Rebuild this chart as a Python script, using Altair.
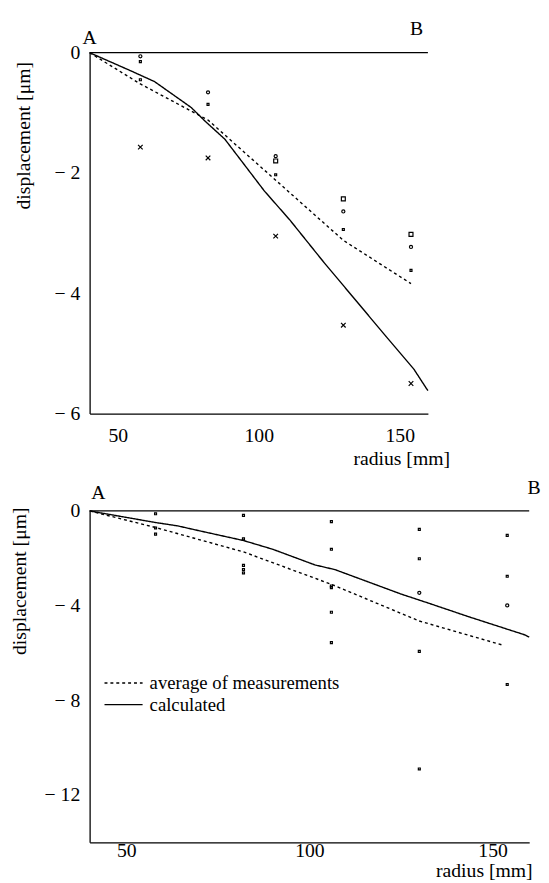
import altair as alt
import pandas as pd

FONT = "Liberation Serif"
SERIES = ["average of measurements", "calculated"]

# ---------------- top panel (A-B, scale -6..0) ----------------
top_meas_x = [58, 58, 58, 58, 82, 82, 82, 106, 106, 106, 106,
              130, 130, 130, 130, 154, 154, 154, 154]
top_meas_y = [-0.06, -0.15, -0.45, -1.57, -0.66, -0.86, -1.75,
              -1.72, -1.80, -2.03, -3.05, -2.43, -2.64, -2.94, -4.53,
              -3.02, -3.23, -3.62, -5.50]
top_meas_kind = ["circle", "dot", "dot", "cross", "circle", "dot", "cross",
                 "circle", "square", "dot", "cross", "square", "circle", "dot", "cross",
                 "square", "circle", "dot", "cross"]

top_avg_x = [40, 58, 82, 106, 130, 154]
top_avg_y = [0, -0.52, -1.12, -2.12, -3.12, -3.84]

top_calc_x = [40, 55, 63, 76, 81, 88, 102, 111, 123, 135, 145, 155, 160]
top_calc_y = [0, -0.31, -0.48, -0.91, -1.14, -1.44, -2.30, -2.78, -3.48,
              -4.15, -4.71, -5.26, -5.62]

# ---------------- bottom panel (scale -14..0) ----------------
bot_meas_x = [58, 58, 58, 82, 82, 82, 82, 82,
              106, 106, 106, 106, 106, 106,
              130, 130, 130, 130, 130, 154, 154, 154, 154]
bot_meas_y = [-0.12, -0.72, -0.98, -0.19, -1.18, -2.30, -2.48, -2.62,
              -0.45, -1.62, -3.17, -3.24, -4.28, -5.56,
              -0.78, -2.02, -3.46, -5.93, -10.9, -1.03, -2.76, -3.99, -7.33]
bot_meas_kind = ["dot"] * 16 + ["circle", "dot", "dot", "dot", "dot", "circle", "dot"]

bot_avg_x = [40, 58, 82, 106, 130, 153]
bot_avg_y = [0, -0.70, -1.73, -3.10, -4.65, -5.68]

bot_calc_x = [40, 58, 64, 70, 82, 90, 101.5, 107, 125, 133, 143.5, 158.7, 160]
bot_calc_y = [0, -0.49, -0.63, -0.84, -1.25, -1.62, -2.28, -2.48, -3.51,
              -3.92, -4.47, -5.23, -5.33]

top_tag_text = ["A", "B"]
top_tag_x = [40, 156]
bot_tag_text = ["A", "B"]
bot_tag_x = [42.4, 161.3]

KINDS = ["dot", "circle", "square", "cross"]
SHAPES = ["square", "circle", "square", "M-1,-1L1,1M-1,1L1,-1"]
SIZES = [4, 22, 9, 14]


def lines_df(ax, ay, cx, cy):
    rows = [{"x": a, "y": b, "series": SERIES[0]} for a, b in zip(ax, ay)]
    rows += [{"x": a, "y": b, "series": SERIES[1]} for a, b in zip(cx, cy)]
    return pd.DataFrame(rows)


def panel(avg_x, avg_y, calc_x, calc_y, mx, my, mk, tags, tag_x, ydom, yticks,
          w, h, ytitle_x, ytitle_y, xtitle_x, xtitle_y, xlab_pad, show_legend,
          tag_dy_a, tag_dy_b):
    xs = alt.Scale(domain=[40, 160], nice=False, zero=False)
    ys = alt.Scale(domain=ydom, nice=False, zero=False)
    xaxis = alt.Axis(values=[50, 100, 150], title="radius [mm]", titleAnchor="start",
                     titleAlign="right", titleX=xtitle_x, titleY=xtitle_y,
                     titleBaseline="middle", labelPadding=xlab_pad)
    yaxis = alt.Axis(values=yticks, title="displacement [μm]",
                     labelExpr="datum.value == 0 ? '0' : '\u2212 ' + format(abs(datum.value), 'd')",
                     titleAngle=-90, titleX=ytitle_x, titleY=ytitle_y,
                     titleAlign="center", titleBaseline="middle", labelPadding=10)

    df = lines_df(avg_x, avg_y, calc_x, calc_y)
    legend = None
    if show_legend:
        legend = alt.Legend(title=None, orient="none", legendX=14, legendY=165,
                            symbolType="stroke", symbolSize=1500,
                            symbolStrokeWidth=1.4, symbolStrokeColor="black",
                            labelFont=FONT, labelFontSize=19, labelColor="black",
                            labelOffset=6, rowPadding=2, clipHeight=20, labelLimit=0)
    lines = alt.Chart(df).mark_line(color="black", strokeWidth=1.4).encode(
        x=alt.X("x:Q", scale=xs, axis=xaxis),
        y=alt.Y("y:Q", scale=ys, axis=yaxis),
        strokeDash=alt.StrokeDash("series:N", legend=legend,
                                  scale=alt.Scale(domain=SERIES, range=[[3, 3], [1, 0]])),
        detail="series:N",
    )

    top_rule = alt.Chart().mark_rule(color="black", strokeWidth=1.3).encode(y=alt.datum(0))

    mdf = pd.DataFrame({"x": mx, "y": my, "kind": mk})
    pts = alt.Chart(mdf).mark_point(filled=False, color="black", strokeWidth=1.2,
                                    opacity=1).encode(
        x=alt.X("x:Q", scale=xs),
        y=alt.Y("y:Q", scale=ys),
        shape=alt.Shape("kind:N", scale=alt.Scale(domain=KINDS, range=SHAPES), legend=None),
        size=alt.Size("kind:N", scale=alt.Scale(domain=KINDS, range=SIZES), legend=None),
    )

    tdf = pd.DataFrame({"x": tag_x, "y": [0, 0], "t": tags})
    tag_a = alt.Chart(tdf).transform_filter("datum.t == 'A'").mark_text(
        font=FONT, fontSize=20, color="black", dy=tag_dy_a).encode(
        x=alt.X("x:Q", scale=xs), y=alt.Y("y:Q", scale=ys), text="t:N")
    tag_b = alt.Chart(tdf).transform_filter("datum.t == 'B'").mark_text(
        font=FONT, fontSize=20, color="black", dy=tag_dy_b).encode(
        x=alt.X("x:Q", scale=xs), y=alt.Y("y:Q", scale=ys), text="t:N")

    return alt.layer(top_rule, lines, pts, tag_a, tag_b).properties(width=w, height=h)


top = panel(top_avg_x, top_avg_y, top_calc_x, top_calc_y,
            top_meas_x, top_meas_y, top_meas_kind, top_tag_text, top_tag_x,
            [-6, 0], [0, -2, -4, -6], 344, 367,
            -67, 84, 366, 46, 12, False, -15, -24)

bottom = panel(bot_avg_x, bot_avg_y, bot_calc_x, bot_calc_y,
               bot_meas_x, bot_meas_y, bot_meas_kind, bot_tag_text, bot_tag_x,
               [-14, 0], [0, -4, -8, -12], 447, 337,
               -71, 71, 450, 29, -2, True, -18, -23)

chart = alt.vconcat(top, bottom, spacing=10).resolve_scale(
    strokeDash="independent", shape="independent", size="independent"
).properties(
    padding={"left": 2, "top": 4, "right": 0, "bottom": 0}
).configure_view(stroke=None).configure_axis(
    domainColor="black", domainWidth=1.3, ticks=False, grid=False,
    labelFont=FONT, labelFontSize=20, labelColor="black",
    titleFont=FONT, titleFontSize=20, titleColor="black", titleFontWeight="normal",
)

chart.save("out.html", embed_options={"renderer": "svg", "actions": False})
